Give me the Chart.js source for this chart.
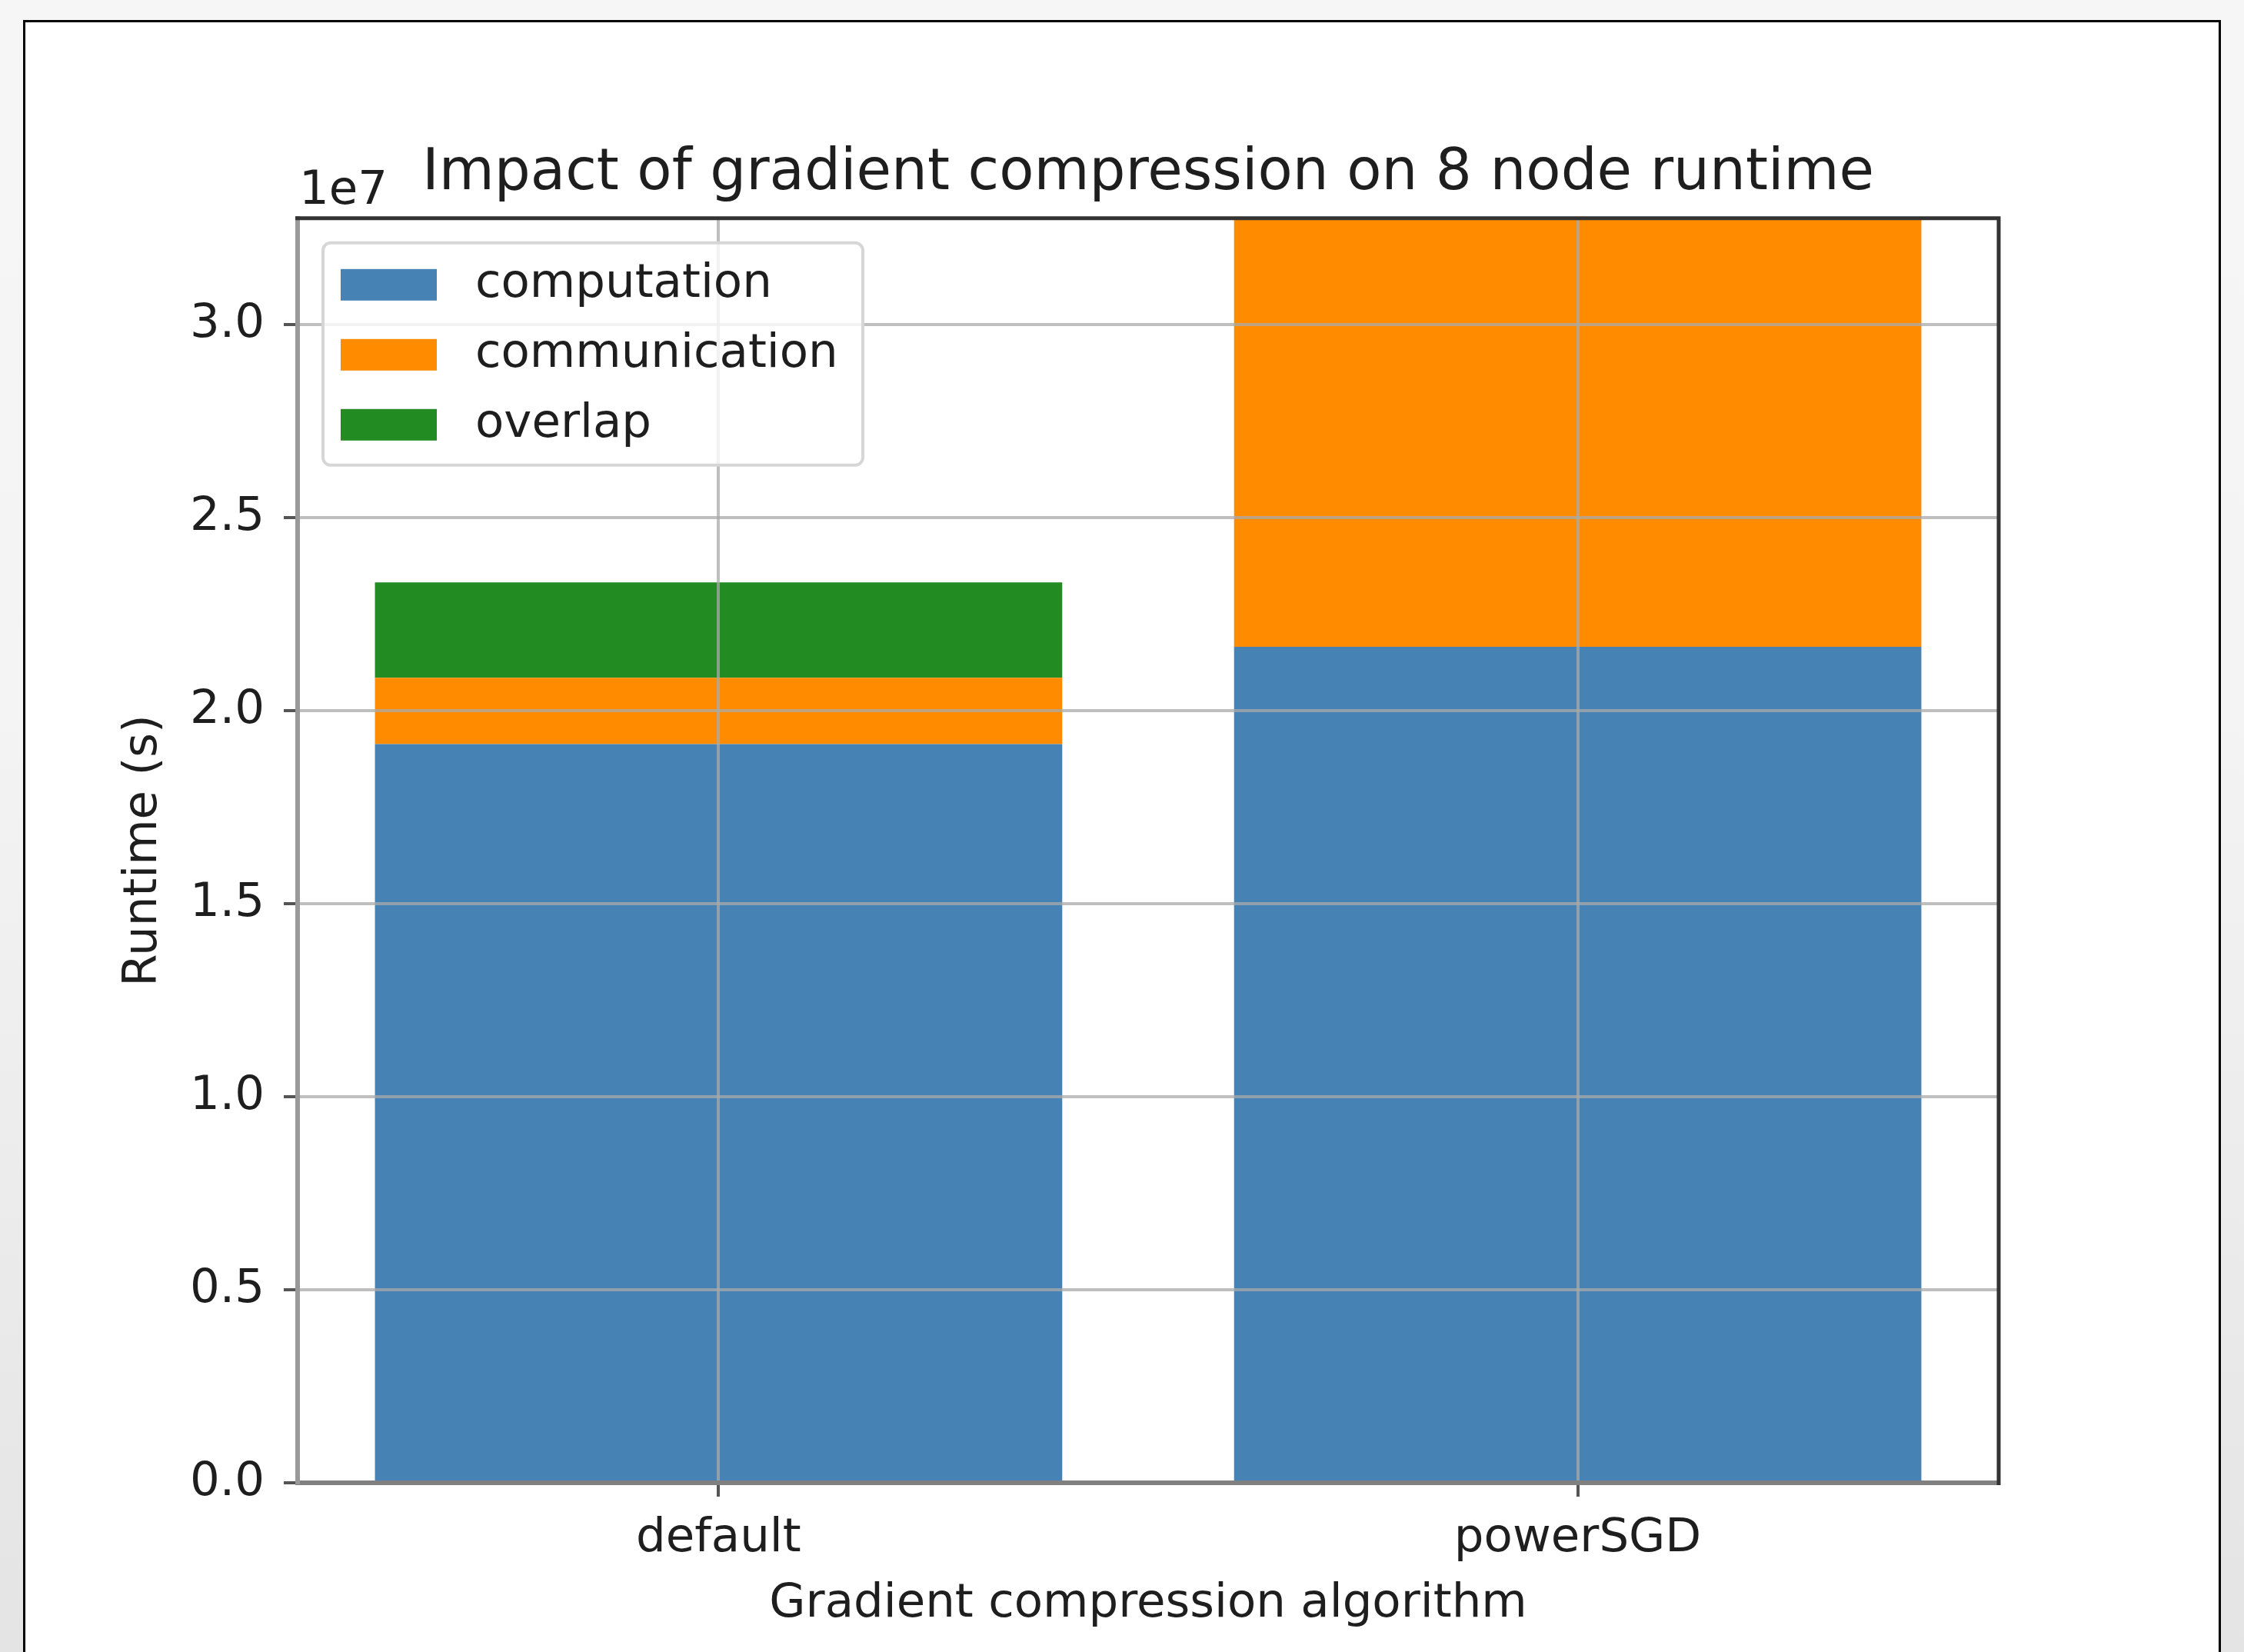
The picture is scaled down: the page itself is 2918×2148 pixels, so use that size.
<!DOCTYPE html>
<html>
<head>
<meta charset="utf-8">
<title>Impact of gradient compression on 8 node runtime</title>
<script src="https://cdn.jsdelivr.net/npm/chart.js@4.4.1/dist/chart.umd.min.js"></script>
<style>
  html, body {
    margin: 0; padding: 0; width: 2918px; height: 2148px; overflow: hidden;
    background: linear-gradient(#f6f6f6 0px, #f4f4f4 900px, #e4e4e4 2148px);
  }
  #card {
    position: absolute; left: 30px; top: 26px; width: 2852px; height: 2200px;
    background: #ffffff; border: 3px solid #000000;
  }
  #chart { position: absolute; left: 0; top: 0; }
</style>
</head>
<body>
<div id="card"></div>
<canvas id="chart" width="2918" height="2148"></canvas>
<script>
// Runtime per gradient compression algorithm, split into phases (seconds)
const categories    = ['default', 'powerSGD'];
const computation   = [1.913e7, 2.165e7];
const communication = [0.172e7, 1.300e7];
const overlap       = [0.247e7, 0];

const seriesLabels  = ['computation', 'communication', 'overlap'];
const seriesColors  = ['#4682b4', '#ff8c00', '#228b22'];

// y axis: shown in units of 1e7
const yScaleFactor = 1e7;
const yOffsetText  = '1e7';
const yTicks = [0, 0.5e7, 1.0e7, 1.5e7, 2.0e7, 2.5e7, 3.0e7];
const yMax   = 3.275e7;

// x axis: categories sit at 0, 1, ... on a numeric index axis
const xTicks = categories.map((_, i) => i);
const xMin = -0.49, xMax = 1.49;

const FONT = "'DejaVu Sans', 'Liberation Sans', sans-serif";
const TEXT = '#1e1e1e';

// plot frame: top/right spines + legend + offset text
const framePlugin = {
  id: 'frame',
  afterDraw(chart) {
    const {ctx, chartArea: a} = chart;
    ctx.save();
    // top and right spines
    ctx.strokeStyle = '#333333';
    ctx.lineWidth = 5;
    ctx.beginPath();
    ctx.moveTo(a.left - 3, a.top);
    ctx.lineTo(a.right, a.top);
    ctx.lineTo(a.right, a.bottom + 3);
    ctx.stroke();

    // axis offset text
    ctx.fillStyle = TEXT;
    ctx.font = '61px ' + FONT;
    ctx.textAlign = 'left';
    ctx.textBaseline = 'alphabetic';
    ctx.fillText(yOffsetText, a.left + 2, a.top - 19);

    // legend box
    const lx = a.left + 33, ly = a.top + 32, lw = 702, lh = 289, r = 10;
    ctx.beginPath();
    ctx.roundRect(lx, ly, lw, lh, r);
    ctx.fillStyle = 'rgba(255,255,255,0.8)';
    ctx.fill();
    ctx.strokeStyle = '#d6d6d6';
    ctx.lineWidth = 4;
    ctx.stroke();

    chart.data.datasets.forEach((ds, i) => {
      const cy = ly + 54 + i * 91;
      ctx.fillStyle = ds.backgroundColor;
      ctx.fillRect(lx + 23, cy - 20, 125, 41);
      ctx.fillStyle = TEXT;
      ctx.font = '61px ' + FONT;
      ctx.textBaseline = 'middle';
      ctx.fillText(ds.label, lx + 198, cy);
    });
    ctx.restore();
  }
};

const seriesData = [computation, communication, overlap];

new Chart(document.getElementById('chart'), {
  type: 'bar',
  data: {
    datasets: seriesLabels.map((label, i) => ({
      label: label,
      data: seriesData[i].map((v, k) => ({ x: xTicks[k], y: v })),
      backgroundColor: seriesColors[i],
      borderWidth: 0,
      barPercentage: 0.8,
      categoryPercentage: 1.0,
      clip: 0
    }))
  },
  options: {
    responsive: false,
    animation: false,
    devicePixelRatio: 1,
    layout: { padding: { left: 100, top: 0, right: 319, bottom: 0 } },
    plugins: {
      legend: { display: false },
      tooltip: { enabled: false },
      title: {
        display: true,
        text: 'Impact of gradient compression on 8 node runtime',
        fullSize: false,
        color: TEXT,
        font: { family: FONT, size: 74, weight: 'normal' },
        padding: { top: 182, bottom: 13 }
      }
    },
    scales: {
      x: {
        type: 'linear',
        stacked: true,
        offset: false,
        min: xMin,
        max: xMax,
        afterFit(scale) { scale.height = 220; },
        afterBuildTicks(scale) { scale.ticks = xTicks.map(v => ({ value: v })); },
        grid: {
          offset: false,
          z: 1,
          color: 'rgba(170,170,170,0.75)',
          lineWidth: 4,
          drawTicks: true,
          tickLength: 18,
          tickColor: '#555555',
          tickWidth: 4
        },
        border: { display: true, color: '#808080', width: 6, z: 2 },
        ticks: {
          color: TEXT,
          padding: 19,
          font: { family: FONT, size: 61 },
          callback: (v) => categories[v]
        },
        title: {
          display: true,
          text: 'Gradient compression algorithm',
          color: TEXT,
          font: { family: FONT, size: 61 },
          padding: { top: 0, bottom: 25 }
        }
      },
      y: {
        stacked: true,
        min: 0,
        max: yMax,
        afterFit(scale) { scale.width = 287; },
        afterBuildTicks(scale) { scale.ticks = yTicks.map(v => ({ value: v })); },
        grid: {
          z: 1,
          color: 'rgba(170,170,170,0.75)',
          lineWidth: 4,
          drawTicks: true,
          tickLength: 18,
          tickColor: '#555555',
          tickWidth: 4
        },
        border: { display: true, color: '#999999', width: 6, z: 2 },
        ticks: {
          color: TEXT,
          padding: 25,
          font: { family: FONT, size: 61 },
          callback: (v) => (v / yScaleFactor).toFixed(1)
        },
        title: {
          display: true,
          text: 'Runtime (s)',
          color: TEXT,
          font: { family: FONT, size: 61 },
          padding: { top: 51, bottom: 0 }
        }
      }
    }
  },
  plugins: [framePlugin]
});
</script>
</body>
</html>
